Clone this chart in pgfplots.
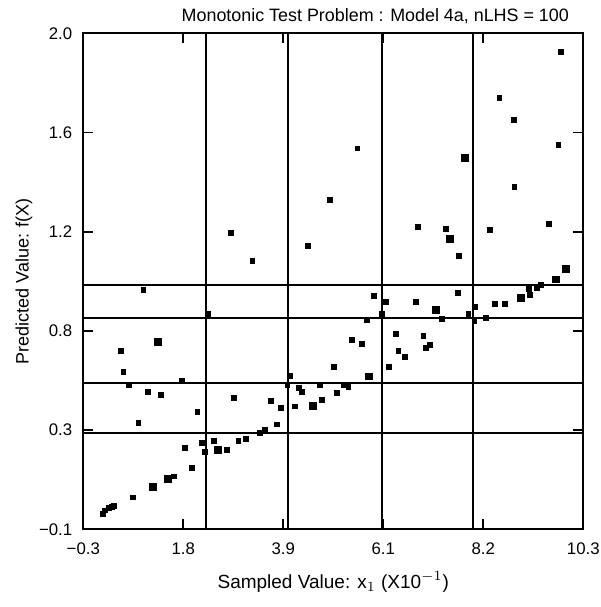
\documentclass[border=0pt]{standalone}
\usepackage{fontspec}
\setmainfont{Liberation Sans}
\usepackage{pgfplots}
\usepackage{pgfplotstable}
\pgfplotsset{compat=1.18}

\pgfplotstableread{
x y
2.825 1.154
3.283 1.038
4.457 1.100
4.930 1.293
9.827 1.922
8.519 1.727
8.831 1.632
5.509 1.513
9.770 1.526
8.837 1.348
6.796 1.179
7.383 1.172
7.658 1.059
8.322 1.169
9.566 1.193
0.972 0.914
2.344 0.811
0.493 0.656
0.548 0.568
0.669 0.512
1.786 0.530
1.065 0.482
1.347 0.468
0.866 0.350
2.117 0.396
2.901 0.458
3.679 0.444
3.891 0.413
4.188 0.420
4.082 0.550
4.025 0.512
4.273 0.498
4.330 0.483
4.718 0.510
4.754 0.448
5.015 0.589
5.072 0.477
1.862 0.246
2.216 0.266
2.477 0.275
2.274 0.228
2.740 0.237
2.986 0.273
3.143 0.284
3.446 0.308
3.558 0.321
3.800 0.344
2.004 0.159
1.629 0.124
0.747 0.035
0.357 -0.002
0.251 -0.009
0.160 -0.020
0.111 -0.034
0.300 -0.006
9.397 0.935
9.312 0.921
9.143 0.918
9.170 0.893
7.637 0.900
8.640 0.853
8.428 0.853
8.004 0.840
7.862 0.811
8.237 0.796
7.989 0.780
5.863 0.888
6.117 0.863
6.753 0.862
7.298 0.791
6.026 0.811
5.708 0.787
5.396 0.702
5.608 0.685
6.329 0.727
6.908 0.719
7.050 0.681
6.959 0.667
6.378 0.657
6.520 0.629
6.187 0.587
5.227 0.512
5.318 0.504
}\smallpts

\pgfplotstableread{
x y
7.792 1.474
7.480 1.130
9.933 1.001
9.721 0.958
1.277 0.694
4.563 0.423
2.549 0.235
1.489 0.113
1.171 0.079
8.979 0.880
7.177 0.829
5.763 0.547
}\bigpts

\begin{document}
\begin{tikzpicture}
\begin{axis}[
  width=250pt, height=248pt, scale only axis,
  xmin=-0.3, xmax=10.3, ymin=-0.1, ymax=2.0,
  xtick={-0.3,1.82,3.94,6.06,8.18,10.3},
  xticklabels={−0.3,1.8,3.9,6.1,8.2,10.3},
  ytick={-0.1,0.32,0.74,1.16,1.58,2.0},
  yticklabels={−0.1,0.3,0.8,1.2,1.6,2.0},
  tick align=inside,
  major tick length=5pt,
  axis line style={line width=1pt},
  every tick/.style={black, line width=0.9pt},
  ticklabel style={font=\fontsize{8.4}{9}\selectfont},
  xticklabel style={yshift=-3pt},
  yticklabel style={xshift=-2pt},
  xlabel={Sampled Value: x$_1$ (X10$^{-1}$)},
  ylabel={Predicted Value: f(X)},
  xlabel style={at={(axis description cs:0.5,-0.1065)}, anchor=center, font=\fontsize{9.5}{11}\selectfont},
  ylabel style={at={(axis description cs:-0.1186,0.5)}, anchor=center, font=\fontsize{9}{11}\selectfont},
  title={Monotonic Test Problem : Model 4a, nLHS = 100},
  title style={at={(axis description cs:0.972,0.999)}, anchor=base east, font=\fontsize{8.95}{11}\selectfont, inner sep=0pt},
  clip=false,
]
\addplot[black, line width=1pt] coordinates {(2.30,-0.1) (2.30,2.0)};
\addplot[black, line width=1pt] coordinates {(4.05,-0.1) (4.05,2.0)};
\addplot[black, line width=1pt] coordinates {(6.03,-0.1) (6.03,2.0)};
\addplot[black, line width=1pt] coordinates {(7.955,-0.1) (7.955,2.0)};
\addplot[black, line width=1pt] coordinates {(-0.3,0.934) (10.3,0.934)};
\addplot[black, line width=1pt] coordinates {(-0.3,0.796) (10.3,0.796)};
\addplot[black, line width=1pt] coordinates {(-0.3,0.518) (10.3,0.518)};
\addplot[black, line width=1pt] coordinates {(-0.3,0.308) (10.3,0.308)};
\addplot[only marks, mark=square*, mark size=1.2pt, black] table[x=x,y=y] {\smallpts};
\addplot[only marks, mark=square*, mark size=1.7pt, black] table[x=x,y=y] {\bigpts};
\end{axis}
\pgfresetboundingbox
\path[use as bounding box] ([xshift=-41.65pt,yshift=-38.85pt]current axis.south west) rectangle ([xshift=8.35pt,yshift=16.65pt]current axis.north east);
\end{tikzpicture}
\end{document}
